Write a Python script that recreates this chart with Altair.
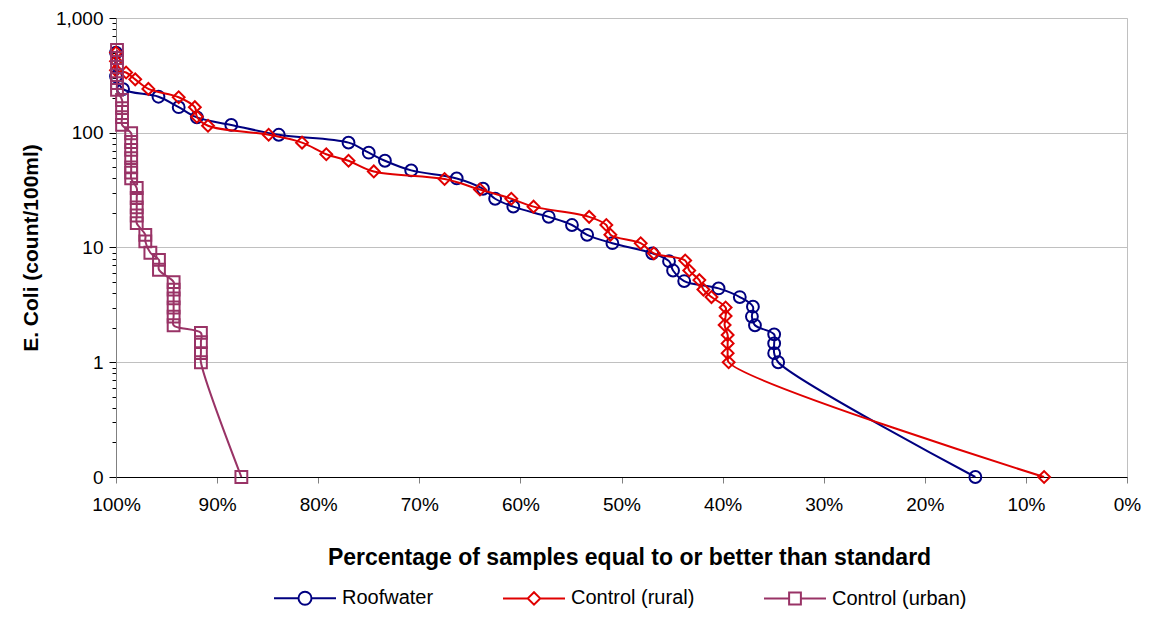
import altair as alt
import pandas as pd

series_names = ["Roofwater", "Control (rural)", "Control (urban)"]
series_colors = ["#000080", "#e00000", "#993366"]
marker_shapes = ["circle", "diamond", "square"]

roof_pct = [100, 100, 99.3, 95.8, 93.8, 92.0, 88.6, 83.9, 77.0, 75.0, 73.4, 70.8, 66.3,
            63.7, 62.5, 60.7, 57.2, 54.9, 53.4, 50.9, 46.95, 45.3, 44.9, 43.8, 40.4,
            38.3, 37.0, 37.1, 36.8, 34.9, 34.9, 34.9, 34.5, 15.0]
roof_val = [500, 310, 240, 206, 167, 136, 117, 96, 82, 67, 57, 47, 40,
            32.5, 26.6, 22.7, 18.5, 15.7, 12.9, 10.9, 8.9, 7.6, 6.3, 5.1, 4.4,
            3.7, 3.05, 2.5, 2.1, 1.75, 1.46, 1.2, 1.0, 0.1]

rural_pct = [100, 100, 100, 99.0, 98.1, 96.8, 93.8, 92.2, 92.0, 90.9, 84.9, 81.6, 79.2,
             77.0, 74.5, 67.5, 64.0, 60.9, 58.7, 53.2, 51.5, 51.1, 48.1, 46.8, 43.7,
             43.3, 42.3, 41.9, 41.1, 39.7, 39.7, 39.8, 39.5, 39.5, 39.5, 39.4, 8.2]
rural_val = [500, 420, 350, 335, 292, 241, 204, 167, 138, 115, 96, 82, 65,
             57, 46, 39.5, 32, 26.6, 22.7, 18.5, 15.7, 12.9, 10.9, 8.9, 7.7,
             6.3, 5.2, 4.3, 3.7, 3.0, 2.53, 2.11, 1.73, 1.46, 1.2, 1.0, 0.1]

urban_pct = [99.9, 99.9, 99.9, 99.9, 99.9, 99.9,
             99.4, 99.4, 99.4, 99.4,
             98.5, 98.5, 98.5, 98.5, 98.5, 98.5, 98.5,
             97.95, 97.95, 97.95, 97.95, 97.95,
             97.1, 97.1, 96.6, 95.75, 95.75,
             94.3, 94.3, 94.3, 94.3, 94.3, 94.3,
             91.6, 91.6, 91.6, 91.6, 87.6]
urban_val = [526, 448, 374, 318, 271, 236,
             193, 164, 137, 117,
             99, 83, 71, 60, 50, 45, 40,
             33, 27, 22.4, 19, 16.3,
             12.9, 11.3, 9.0, 7.8, 6.4,
             5.0, 4.3, 3.6, 3.0, 2.5, 2.1,
             1.8, 1.5, 1.2, 1.0, 0.1]

x_ticks = [0, 10, 20, 30, 40, 50, 60, 70, 80, 90, 100]
y_major = [0.1, 1, 10, 100, 1000]
y_minor = [0.2, 0.3, 0.4, 0.5, 0.6, 0.7, 0.8, 0.9,
           2, 3, 4, 5, 6, 7, 8, 9,
           20, 30, 40, 50, 60, 70, 80, 90,
           200, 300, 400, 500, 600, 700, 800, 900]

legend_paths = [
    "M-1,0L-0.21,0M0.21,0L1,0M-0.21,0A0.21,0.21 0 1,0 0.21,0A0.21,0.21 0 1,0 -0.21,0",
    "M-1,0L-0.2,0M0.2,0L1,0M-0.2,0L0,-0.2L0.2,0L0,0.2Z",
    "M-1,0L-0.19,0M0.19,0L1,0M-0.19,-0.19L0.19,-0.19L0.19,0.19L-0.19,0.19Z",
]

rows = []
for name, pcts, vals in zip(series_names, [roof_pct, rural_pct, urban_pct],
                            [roof_val, rural_val, urban_val]):
    for i, (p, v) in enumerate(zip(pcts, vals)):
        rows.append({"series": name, "pct": p, "val": v, "idx": i})
df = pd.DataFrame(rows)

FONT = "Liberation Sans"
major_test = "indexof([0.1, 1, 10, 100, 1000], datum.value) >= 0"

x_enc = alt.X(
    "pct:Q",
    scale=alt.Scale(domain=[0, 100], reverse=True, nice=False),
    axis=alt.Axis(
        values=x_ticks,
        labelExpr="datum.value + '%'",
        labelFlush=False,
        labelBound=False,
        title="Percentage of samples equal to or better than standard",
        grid=False,
        domainColor="#000000",
        tickColor="#808080",
        tickSize=6,
        labelFontSize=19,
        labelPadding=12,
        labelColor="#000000",
        titleFontSize=23,
        titleFontWeight="bold",
        titleColor="#000000",
        titleX=513,
        titleY=80,
        titleBaseline="middle",
    ),
)

y_enc = alt.Y(
    "val:Q",
    scale=alt.Scale(type="log", domain=[0.1, 1000], nice=False),
    axis=alt.Axis(
        values=y_major + y_minor,
        labelExpr="datum.value == 0.1 ? '0' : (indexof([1, 10, 100, 1000], datum.value) >= 0 ? format(datum.value, ',') : '')",
        labelOverlap=False,
        labelFlush=False,
        labelBound=False,
        title="E. Coli (count/100ml)",
        gridColor="#c0c0c0",
        gridOpacity={"condition": {"test": major_test, "value": 1}, "value": 0},
        tickSize={"condition": {"test": major_test, "value": 7}, "value": 4},
        domainColor="#808080",
        tickColor="#000000",
        labelFontSize=19,
        labelPadding=6,
        labelColor="#000000",
        titleFontSize=21,
        titleFontWeight="bold",
        titleColor="#000000",
        titleX=-85,
        titleY=229.5,
        titleAngle=270,
        titleBaseline="middle",
    ),
)

layers = []
for name, col, shp in zip(series_names, series_colors, marker_shapes):
    base = alt.Chart(df).transform_filter(alt.datum.series == name)
    layers.append(
        base.mark_line(interpolate="catmull-rom", strokeWidth=2, color=col).encode(
            x=x_enc, y=y_enc, order="idx:Q"
        )
    )
    layers.append(
        base.mark_point(filled=False, strokeWidth=2, size=140, opacity=1, shape=shp, color=col).encode(
            x=x_enc, y=y_enc
        )
    )

legend_def = alt.Legend(
    title=None,
    orient="none",
    direction="horizontal",
    legendX=157,
    legendY=548,
    symbolSize=3844,
    symbolStrokeWidth=2,
    labelFontSize=20,
    labelFont=FONT,
    labelColor="#000000",
    labelOffset=5,
    columnPadding=65,
)

legend_layer = alt.Chart(df).transform_filter("false").mark_point(
    filled=False, strokeWidth=2, opacity=1
).encode(
    x=x_enc, y=y_enc,
    color=alt.Color("series:N", scale=alt.Scale(domain=series_names, range=series_colors), legend=legend_def),
    shape=alt.Shape("series:N", scale=alt.Scale(domain=series_names, range=legend_paths), legend=legend_def),
)
layers.append(legend_layer)

chart = alt.layer(*layers).properties(
    width=1011,
    height=459,
    autosize=alt.AutoSizeParams(type="none"),
    padding={"left": 108, "top": 10, "right": 15, "bottom": 155},
).configure(font=FONT).configure_view(stroke="#c0c0c0", strokeWidth=1)

chart.save("out.html", embed_options={"renderer": "svg", "actions": False})
